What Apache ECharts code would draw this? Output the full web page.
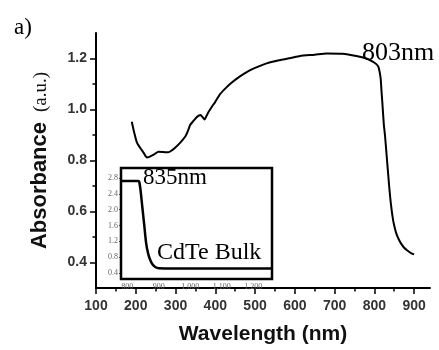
<!DOCTYPE html>
<html>
<head>
<meta charset="utf-8">
<script src="https://cdn.jsdelivr.net/npm/echarts@6/dist/echarts.min.js"></script>
<style>
html,body{margin:0;padding:0;background:#fff;}
#chart{width:439px;height:350px;}
</style>
</head>
<body>
<div id="chart"></div>
<script>
// Main spectrum: wavelength (nm) and absorbance (a.u.)
var mainWavelength = [190,196,203,211,220,228,234,240,248,257,270,282,291,299,312,325,331,337,345,354,363,368,373,378,383,391,400,412,425,440,462,480,500,529,560,590,613,650,680,720,755,780,797,805,810,813,816,818,820,822,824,827,832,837,842,847,851,855,861,867,875,883,892,900];
var mainAbsorbance = [0.952,0.91,0.87,0.85,0.83,0.812,0.814,0.819,0.826,0.834,0.833,0.832,0.84,0.85,0.87,0.895,0.915,0.94,0.955,0.971,0.978,0.97,0.961,0.975,0.99,1.01,1.03,1.06,1.082,1.104,1.13,1.148,1.163,1.181,1.193,1.202,1.21,1.215,1.22,1.219,1.21,1.2,1.187,1.178,1.168,1.15,1.12,1.073,1.03,0.984,0.94,0.895,0.8,0.705,0.625,0.568,0.538,0.515,0.492,0.475,0.458,0.447,0.437,0.432];

// Inset: CdTe bulk
var insetWavelength = [780,800,820,835,838,842,848,854,860,866,872,880,890,900,950,1000,1100,1200,1260];
var insetAbsorbance = [2.72,2.72,2.72,2.72,2.7,2.5,2.05,1.6,1.15,0.9,0.75,0.62,0.545,0.52,0.515,0.515,0.515,0.515,0.515];

// Tick values
var xMajorTicks = [100,200,300,400,500,600,700,800,900];
var xMinorTicks = [150,250,350,450,550,650,750,850];
var yMajorTicks = [0.4,0.6,0.8,1.0,1.2];
var yMinorTicks = [0.5,0.7,0.9,1.1];
var insetXTicks = [800,900,1000,1100,1200];
var insetYTicks = [0.4,0.8,1.2,1.6,2.0,2.4,2.8];

var chart = echarts.init(document.getElementById('chart'), null, {renderer:'canvas'});

function pairs(xs, ys){ return xs.map(function(x,i){ return [x, ys[i]]; }); }

var sans = 'Liberation Sans, Arial, sans-serif';
var serif = 'Liberation Serif, Times New Roman, serif';

var axisLineStyle = {color:'#000', width:2};

var option = {
  backgroundColor:'#fff',
  animation:false,
  grid:[
    {left:96, right:9, top:33, bottom:53, containLabel:false},
    {left:121, right:167, top:168, bottom:71, containLabel:false, show:true, borderColor:'#000', borderWidth:2.5, backgroundColor:'#fff', z:5}
  ],
  xAxis:[
    {gridIndex:0, type:'value', min:100, max:940, position:'bottom',
     axisLine:{show:true, lineStyle:axisLineStyle},
     axisTick:{show:true, inside:false, length:6, lineStyle:{color:'#000', width:1.5}, customValues:xMajorTicks},
     axisLabel:{show:true, margin:11, fontFamily:sans, fontSize:14, fontWeight:'bold', color:'#333', customValues:xMajorTicks},
     splitLine:{show:false},
     name:'Wavelength (nm)', nameLocation:'middle', nameGap:36,
     nameTextStyle:{fontFamily:sans, fontSize:21, fontWeight:'bold', color:'#111'}},
    {gridIndex:0, type:'value', min:100, max:940, position:'bottom',
     axisLine:{show:false},
     axisTick:{show:true, inside:false, length:3.5, lineStyle:{color:'#000', width:1.5}, customValues:xMinorTicks},
     axisLabel:{show:false}, splitLine:{show:false}},
    {gridIndex:1, type:'value', min:780, max:1260, position:'bottom',
     axisLine:{show:false},
     axisTick:{show:false},
     axisLabel:{show:true, margin:4, fontFamily:serif, fontSize:8, color:'#666', customValues:insetXTicks},
     splitLine:{show:false}}
  ],
  yAxis:[
    {gridIndex:0, type:'value', min:0.3, max:1.3, position:'left',
     axisLine:{show:true, lineStyle:axisLineStyle},
     axisTick:{show:true, inside:false, length:6, lineStyle:{color:'#000', width:1.5}, customValues:yMajorTicks},
     axisLabel:{show:true, margin:9, fontFamily:sans, fontSize:14, fontWeight:'bold', color:'#333', customValues:yMajorTicks,
       formatter:function(v){ return v.toFixed(1); }},
     splitLine:{show:false},
     name:'{a|Absorbance}{s| }{b|(a.u.)}', nameLocation:'middle', nameGap:45, nameRotate:90,
     nameTextStyle:{lineHeight:24, rich:{
       a:{fontFamily:sans, fontSize:22, fontWeight:'bold', color:'#111', lineHeight:24, verticalAlign:'bottom'},
       s:{fontFamily:sans, fontSize:22, width:10, lineHeight:24, verticalAlign:'bottom'},
       b:{fontFamily:serif, fontSize:19, color:'#111', lineHeight:22, verticalAlign:'bottom'}
     }}},
    {gridIndex:0, type:'value', min:0.3, max:1.3, position:'left',
     axisLine:{show:false},
     axisTick:{show:true, inside:false, length:3.5, lineStyle:{color:'#000', width:1.5}, customValues:yMinorTicks},
     axisLabel:{show:false}, splitLine:{show:false}},
    {gridIndex:1, type:'value', min:0.25, max:3.05, position:'left',
     axisLine:{show:false},
     axisTick:{show:true, inside:false, length:2, lineStyle:{color:'#555', width:1}, customValues:insetYTicks},
     axisLabel:{show:true, margin:3, fontFamily:serif, fontSize:8, color:'#666', customValues:insetYTicks,
       formatter:function(v){ return v.toFixed(1); }},
     splitLine:{show:false}}
  ],
  series:[
    {type:'line', xAxisIndex:0, yAxisIndex:0, data:pairs(mainWavelength, mainAbsorbance),
     showSymbol:false, smooth:0.2, lineStyle:{color:'#000', width:2}, z:3},
    {type:'line', xAxisIndex:2, yAxisIndex:2, data:pairs(insetWavelength, insetAbsorbance),
     showSymbol:false, smooth:0.3, lineStyle:{color:'#000', width:2.5}, z:6}
  ],
  graphic:[
    {type:'text', left:14, top:16, z:10, style:{text:'a)', fontFamily:serif, fontSize:23, fill:'#000'}},
    {type:'text', left:362, top:40, z:10, style:{text:'803nm', fontFamily:serif, fontSize:26, fill:'#000'}},
    {type:'text', left:143, top:166, z:10, style:{text:'835nm', fontFamily:serif, fontSize:23, fill:'#000'}},
    {type:'text', left:157, top:241, z:10, style:{text:'CdTe Bulk', fontFamily:serif, fontSize:24, fill:'#000'}}
  ]
};
chart.setOption(option);
</script>
</body>
</html>
